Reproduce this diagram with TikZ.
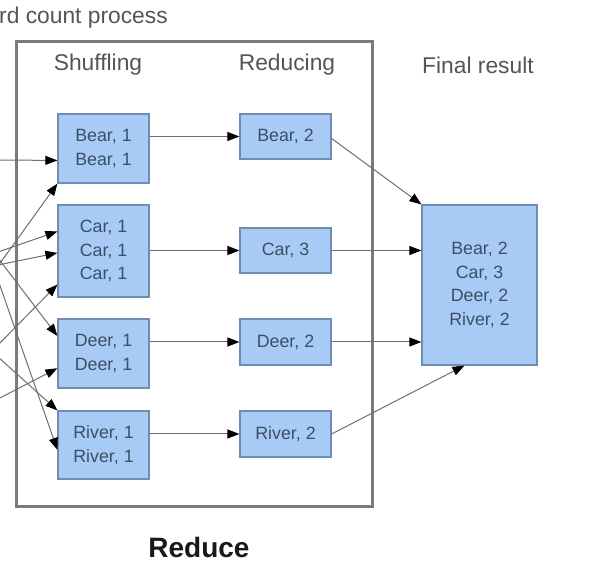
\documentclass[tikz,border=0pt]{standalone}
\usepackage{fontspec}
\setmainfont{Liberation Sans}
\usetikzlibrary{arrows.meta,calc}
\definecolor{boxfill}{HTML}{A8CBF5}
\definecolor{boxline}{HTML}{6F8DB3}
\definecolor{boxtext}{HTML}{3B4E68}
\definecolor{framegray}{HTML}{7A7A7A}
\definecolor{headgray}{HTML}{555555}
\definecolor{linegray}{HTML}{6E6E6E}
\tikzset{
  databox/.style={draw=boxline, fill=boxfill, line width=1.2pt, text=boxtext,
    minimum width=91pt, inner sep=0pt, align=center,
    font=\fontsize{17.8}{23.5}\selectfont},
  heading/.style={text=headgray, font=\fontsize{22.8}{26}\selectfont, inner sep=0pt},
  flow/.style={draw=linegray, line width=1pt,
    -{Triangle[length=12pt,width=9pt,color=black,fill=black]}},
}
\begin{document}
\begin{tikzpicture}[x=1pt,y=-1pt]
\useasboundingbox (0,0) rectangle (598,580);
% frame
\draw[framegray, line width=3pt] (16,42) rectangle (372,506);
% texts
\node[heading, anchor=west] (title) at (-1,18) {rd count process};
\node[heading] (hshuf) at (98,65) {Shuffling};
\node[heading] (hred) at (287,65) {Reducing};
\node[heading] (hfin) at (478,65) {Final result};
\node[font=\bfseries\fontsize{28}{32}\selectfont, text=black!90, inner sep=0pt] (reduce) at (199,547) {Reduce};
% shuffling boxes
\node[databox, minimum height=69pt] (sb) at (103.5,148.5) {Bear, 1\\Bear, 1};
\node[databox, minimum height=92pt] (sc) at (103.5,251) {Car, 1\\Car, 1\\Car, 1};
\node[databox, minimum height=69pt] (sd) at (103.5,353.5) {Deer, 1\\Deer, 1};
\node[databox, minimum height=68pt] (sr) at (103.5,445) {River, 1\\River, 1};
% reducing boxes
\node[databox, minimum height=45pt] (rb) at (285.5,136.5) {Bear, 2};
\node[databox, minimum height=45pt] (rc) at (285.5,250.5) {Car, 3};
\node[databox, minimum height=46pt] (rd) at (285.5,342) {Deer, 2};
\node[databox, minimum height=46pt] (rr) at (285.5,434) {River, 2};
% final box
\node[databox, minimum width=115pt, minimum height=160pt] (fin) at (479.5,285)
  {Bear, 2\\Car, 3\\Deer, 2\\River, 2};
% incoming free ends
\coordinate (i1) at (-2,160);
\coordinate (i2) at (-2,266);
\coordinate (i3) at (-2,252);
\coordinate (i4) at (-2,265);
\coordinate (i5) at (-2,345);
\coordinate (i6) at (-2,258);
\coordinate (i7) at (-2,399);
\coordinate (i8) at (-2,357);
\coordinate (i9) at (-2,280);
\draw[flow] (i1) -- ($(sb.north west)!0.67!(sb.south west)$);
\draw[flow] (i2) -- (sb.south west);
\draw[flow] (i3) -- ($(sc.north west)!0.29!(sc.south west)$);
\draw[flow] (i4) -- ($(sc.north west)!0.52!(sc.south west)$);
\draw[flow] (i5) -- ($(sc.north west)!0.86!(sc.south west)$);
\draw[flow] (i6) -- ($(sd.north west)!0.25!(sd.south west)$);
\draw[flow] (i7) -- ($(sd.north west)!0.71!(sd.south west)$);
\draw[flow] (i8) -- (sr.north west);
\draw[flow] (i9) -- ($(sr.north west)!0.57!(sr.south west)$);
% shuffling -> reducing
\draw[flow] (sb.east |- rb.west) -- (rb.west);
\draw[flow] (sc.east |- rc.west) -- (rc.west);
\draw[flow] (sd.east |- rd.west) -- (rd.west);
\draw[flow] (sr.east |- rr.west) -- (rr.west);
% reducing -> final
\draw[flow] ([yshift=-2pt]rb.east) -- (fin.north west);
\draw[flow] (rc.east) -- (fin.west |- rc.east);
\draw[flow] (rd.east) -- (fin.west |- rd.east);
\draw[flow] (rr.east) -- ($(fin.south west)!0.37!(fin.south east)$);
\end{tikzpicture}
\end{document}
